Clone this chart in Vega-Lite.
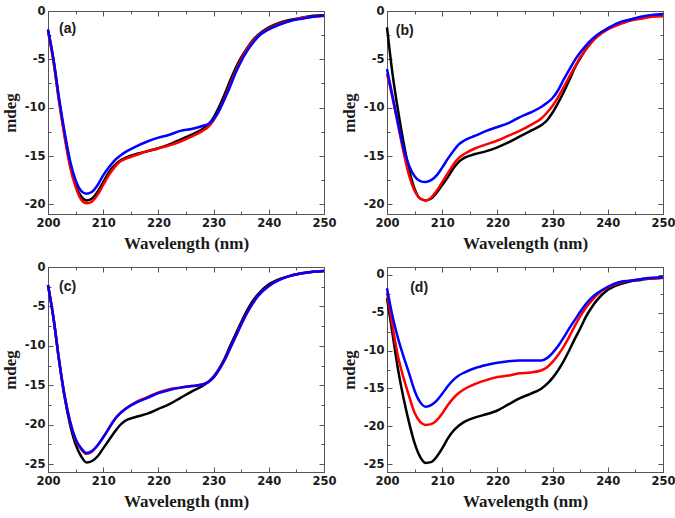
{
"$schema": "https://vega.github.io/schema/vega-lite/v6.json",
"background": "white",
"padding": {"left": 0, "top": 4, "right": 0, "bottom": 2},
"config": {
  "view": {"stroke": "#555", "strokeWidth": 1},
  "axis": {"labelFont": "DejaVu Sans", "labelFontWeight": "bold", "labelFontSize": 11.5, "labelColor": "#1a1a1a", "titleFont": "Liberation Serif", "titleFontWeight": "bold", "titleFontSize": 17, "titleColor": "#1a1a1a", "domainColor": "#555", "tickColor": "#555", "grid": false, "labelPadding": 8, "titlePadding": 5, "labelFlush": false, "labelOverlap": false}
},
"datasets": {
"labels": [
{"p":"a","wl":202,"v":-1.85,"label":"(a)"},
{"p":"b","wl":201.6,"v":-2.05,"label":"(b)"},
{"p":"c","wl":202,"v":-2.5,"label":"(c)"},
{"p":"d","wl":204.2,"v":-1.7,"label":"(d)"}
],
"curves": [
{"p":"a","s":"black","wl":200,"v":-2.0},{"p":"a","s":"black","wl":201,"v":-5.1},{"p":"a","s":"black","wl":202,"v":-9.2},{"p":"a","s":"black","wl":203,"v":-12.8},{"p":"a","s":"black","wl":204,"v":-15.9},{"p":"a","s":"black","wl":205,"v":-18.0},{"p":"a","s":"black","wl":206,"v":-19.2},{"p":"a","s":"black","wl":207,"v":-19.6},{"p":"a","s":"black","wl":208,"v":-19.4},{"p":"a","s":"black","wl":209,"v":-18.7},{"p":"a","s":"black","wl":210,"v":-17.7},{"p":"a","s":"black","wl":211,"v":-16.7},{"p":"a","s":"black","wl":212,"v":-16.0},{"p":"a","s":"black","wl":213,"v":-15.5},{"p":"a","s":"black","wl":214,"v":-15.2},{"p":"a","s":"black","wl":216,"v":-14.8},{"p":"a","s":"black","wl":218,"v":-14.5},{"p":"a","s":"black","wl":220,"v":-14.2},{"p":"a","s":"black","wl":222,"v":-13.8},{"p":"a","s":"black","wl":224,"v":-13.3},{"p":"a","s":"black","wl":226,"v":-12.8},{"p":"a","s":"black","wl":228,"v":-12.2},{"p":"a","s":"black","wl":229,"v":-11.8},{"p":"a","s":"black","wl":230,"v":-11.0},{"p":"a","s":"black","wl":231,"v":-9.9},{"p":"a","s":"black","wl":232,"v":-8.6},{"p":"a","s":"black","wl":233,"v":-7.2},{"p":"a","s":"black","wl":234,"v":-5.9},{"p":"a","s":"black","wl":235,"v":-4.8},{"p":"a","s":"black","wl":236,"v":-3.9},{"p":"a","s":"black","wl":237,"v":-3.1},{"p":"a","s":"black","wl":238,"v":-2.5},{"p":"a","s":"black","wl":240,"v":-1.7},{"p":"a","s":"black","wl":242,"v":-1.2},{"p":"a","s":"black","wl":244,"v":-0.9},{"p":"a","s":"black","wl":246,"v":-0.7},{"p":"a","s":"black","wl":248,"v":-0.5},{"p":"a","s":"black","wl":250,"v":-0.45},
{"p":"a","s":"red","wl":200,"v":-2.1},{"p":"a","s":"red","wl":201,"v":-5.3},{"p":"a","s":"red","wl":202,"v":-9.4},{"p":"a","s":"red","wl":203,"v":-13.0},{"p":"a","s":"red","wl":204,"v":-16.1},{"p":"a","s":"red","wl":205,"v":-18.2},{"p":"a","s":"red","wl":206,"v":-19.5},{"p":"a","s":"red","wl":207,"v":-19.9},{"p":"a","s":"red","wl":208,"v":-19.7},{"p":"a","s":"red","wl":209,"v":-19.0},{"p":"a","s":"red","wl":210,"v":-18.0},{"p":"a","s":"red","wl":211,"v":-17.0},{"p":"a","s":"red","wl":212,"v":-16.2},{"p":"a","s":"red","wl":213,"v":-15.6},{"p":"a","s":"red","wl":214,"v":-15.3},{"p":"a","s":"red","wl":216,"v":-14.9},{"p":"a","s":"red","wl":218,"v":-14.5},{"p":"a","s":"red","wl":220,"v":-14.2},{"p":"a","s":"red","wl":222,"v":-13.9},{"p":"a","s":"red","wl":224,"v":-13.5},{"p":"a","s":"red","wl":226,"v":-13.0},{"p":"a","s":"red","wl":228,"v":-12.4},{"p":"a","s":"red","wl":229,"v":-12.0},{"p":"a","s":"red","wl":230,"v":-11.3},{"p":"a","s":"red","wl":231,"v":-10.3},{"p":"a","s":"red","wl":232,"v":-9.0},{"p":"a","s":"red","wl":233,"v":-7.6},{"p":"a","s":"red","wl":234,"v":-6.2},{"p":"a","s":"red","wl":235,"v":-5.0},{"p":"a","s":"red","wl":236,"v":-4.0},{"p":"a","s":"red","wl":237,"v":-3.2},{"p":"a","s":"red","wl":238,"v":-2.6},{"p":"a","s":"red","wl":240,"v":-1.8},{"p":"a","s":"red","wl":242,"v":-1.3},{"p":"a","s":"red","wl":244,"v":-1.0},{"p":"a","s":"red","wl":246,"v":-0.7},{"p":"a","s":"red","wl":248,"v":-0.6},{"p":"a","s":"red","wl":250,"v":-0.5},
{"p":"a","s":"blue","wl":200,"v":-1.9},{"p":"a","s":"blue","wl":201,"v":-5.0},{"p":"a","s":"blue","wl":202,"v":-9.0},{"p":"a","s":"blue","wl":203,"v":-12.5},{"p":"a","s":"blue","wl":204,"v":-15.5},{"p":"a","s":"blue","wl":205,"v":-17.5},{"p":"a","s":"blue","wl":206,"v":-18.6},{"p":"a","s":"blue","wl":207,"v":-18.9},{"p":"a","s":"blue","wl":208,"v":-18.7},{"p":"a","s":"blue","wl":209,"v":-18.0},{"p":"a","s":"blue","wl":210,"v":-17.0},{"p":"a","s":"blue","wl":211,"v":-16.2},{"p":"a","s":"blue","wl":212,"v":-15.5},{"p":"a","s":"blue","wl":213,"v":-15.0},{"p":"a","s":"blue","wl":214,"v":-14.6},{"p":"a","s":"blue","wl":216,"v":-14.0},{"p":"a","s":"blue","wl":218,"v":-13.5},{"p":"a","s":"blue","wl":220,"v":-13.1},{"p":"a","s":"blue","wl":222,"v":-12.8},{"p":"a","s":"blue","wl":224,"v":-12.4},{"p":"a","s":"blue","wl":226,"v":-12.2},{"p":"a","s":"blue","wl":228,"v":-11.9},{"p":"a","s":"blue","wl":229,"v":-11.7},{"p":"a","s":"blue","wl":230,"v":-11.2},{"p":"a","s":"blue","wl":231,"v":-10.3},{"p":"a","s":"blue","wl":232,"v":-9.1},{"p":"a","s":"blue","wl":233,"v":-7.8},{"p":"a","s":"blue","wl":234,"v":-6.4},{"p":"a","s":"blue","wl":235,"v":-5.2},{"p":"a","s":"blue","wl":236,"v":-4.2},{"p":"a","s":"blue","wl":237,"v":-3.4},{"p":"a","s":"blue","wl":238,"v":-2.7},{"p":"a","s":"blue","wl":240,"v":-1.9},{"p":"a","s":"blue","wl":242,"v":-1.4},{"p":"a","s":"blue","wl":244,"v":-1.0},{"p":"a","s":"blue","wl":246,"v":-0.8},{"p":"a","s":"blue","wl":248,"v":-0.6},{"p":"a","s":"blue","wl":250,"v":-0.5},
{"p":"b","s":"black","wl":200,"v":-1.7},{"p":"b","s":"black","wl":201,"v":-6.5},{"p":"b","s":"black","wl":202,"v":-10.3},{"p":"b","s":"black","wl":203,"v":-13.6},{"p":"b","s":"black","wl":204,"v":-16.4},{"p":"b","s":"black","wl":205,"v":-18.4},{"p":"b","s":"black","wl":206,"v":-19.4},{"p":"b","s":"black","wl":207,"v":-19.6},{"p":"b","s":"black","wl":208,"v":-19.4},{"p":"b","s":"black","wl":209,"v":-18.8},{"p":"b","s":"black","wl":210,"v":-18.0},{"p":"b","s":"black","wl":211,"v":-17.2},{"p":"b","s":"black","wl":212,"v":-16.3},{"p":"b","s":"black","wl":213,"v":-15.6},{"p":"b","s":"black","wl":214,"v":-15.2},{"p":"b","s":"black","wl":216,"v":-14.8},{"p":"b","s":"black","wl":218,"v":-14.5},{"p":"b","s":"black","wl":220,"v":-14.1},{"p":"b","s":"black","wl":222,"v":-13.6},{"p":"b","s":"black","wl":224,"v":-13.0},{"p":"b","s":"black","wl":226,"v":-12.4},{"p":"b","s":"black","wl":228,"v":-11.8},{"p":"b","s":"black","wl":229,"v":-11.3},{"p":"b","s":"black","wl":230,"v":-10.5},{"p":"b","s":"black","wl":231,"v":-9.5},{"p":"b","s":"black","wl":232,"v":-8.4},{"p":"b","s":"black","wl":233,"v":-7.2},{"p":"b","s":"black","wl":234,"v":-5.9},{"p":"b","s":"black","wl":235,"v":-4.9},{"p":"b","s":"black","wl":236,"v":-4.0},{"p":"b","s":"black","wl":237,"v":-3.2},{"p":"b","s":"black","wl":238,"v":-2.6},{"p":"b","s":"black","wl":240,"v":-1.8},{"p":"b","s":"black","wl":242,"v":-1.3},{"p":"b","s":"black","wl":244,"v":-0.9},{"p":"b","s":"black","wl":246,"v":-0.7},{"p":"b","s":"black","wl":248,"v":-0.5},{"p":"b","s":"black","wl":250,"v":-0.45},
{"p":"b","s":"red","wl":200,"v":-6.5},{"p":"b","s":"red","wl":201,"v":-9.0},{"p":"b","s":"red","wl":202,"v":-11.8},{"p":"b","s":"red","wl":203,"v":-14.6},{"p":"b","s":"red","wl":204,"v":-17.0},{"p":"b","s":"red","wl":205,"v":-18.6},{"p":"b","s":"red","wl":206,"v":-19.4},{"p":"b","s":"red","wl":207,"v":-19.6},{"p":"b","s":"red","wl":208,"v":-19.3},{"p":"b","s":"red","wl":209,"v":-18.6},{"p":"b","s":"red","wl":210,"v":-17.7},{"p":"b","s":"red","wl":211,"v":-16.8},{"p":"b","s":"red","wl":212,"v":-15.9},{"p":"b","s":"red","wl":213,"v":-15.2},{"p":"b","s":"red","wl":214,"v":-14.8},{"p":"b","s":"red","wl":216,"v":-14.2},{"p":"b","s":"red","wl":218,"v":-13.8},{"p":"b","s":"red","wl":220,"v":-13.4},{"p":"b","s":"red","wl":222,"v":-12.9},{"p":"b","s":"red","wl":224,"v":-12.4},{"p":"b","s":"red","wl":226,"v":-11.8},{"p":"b","s":"red","wl":228,"v":-11.1},{"p":"b","s":"red","wl":229,"v":-10.5},{"p":"b","s":"red","wl":230,"v":-9.8},{"p":"b","s":"red","wl":231,"v":-8.9},{"p":"b","s":"red","wl":232,"v":-7.9},{"p":"b","s":"red","wl":233,"v":-6.8},{"p":"b","s":"red","wl":234,"v":-5.8},{"p":"b","s":"red","wl":235,"v":-4.8},{"p":"b","s":"red","wl":236,"v":-4.0},{"p":"b","s":"red","wl":237,"v":-3.3},{"p":"b","s":"red","wl":238,"v":-2.7},{"p":"b","s":"red","wl":240,"v":-1.9},{"p":"b","s":"red","wl":242,"v":-1.4},{"p":"b","s":"red","wl":244,"v":-1.0},{"p":"b","s":"red","wl":246,"v":-0.8},{"p":"b","s":"red","wl":248,"v":-0.6},{"p":"b","s":"red","wl":250,"v":-0.55},
{"p":"b","s":"blue","wl":200,"v":-6.0},{"p":"b","s":"blue","wl":201,"v":-8.8},{"p":"b","s":"blue","wl":202,"v":-11.6},{"p":"b","s":"blue","wl":203,"v":-14.2},{"p":"b","s":"blue","wl":204,"v":-16.0},{"p":"b","s":"blue","wl":205,"v":-17.1},{"p":"b","s":"blue","wl":206,"v":-17.6},{"p":"b","s":"blue","wl":207,"v":-17.7},{"p":"b","s":"blue","wl":208,"v":-17.5},{"p":"b","s":"blue","wl":209,"v":-17.0},{"p":"b","s":"blue","wl":210,"v":-16.2},{"p":"b","s":"blue","wl":211,"v":-15.3},{"p":"b","s":"blue","wl":212,"v":-14.5},{"p":"b","s":"blue","wl":213,"v":-13.8},{"p":"b","s":"blue","wl":214,"v":-13.4},{"p":"b","s":"blue","wl":216,"v":-12.9},{"p":"b","s":"blue","wl":218,"v":-12.4},{"p":"b","s":"blue","wl":220,"v":-12.0},{"p":"b","s":"blue","wl":222,"v":-11.6},{"p":"b","s":"blue","wl":224,"v":-11.0},{"p":"b","s":"blue","wl":226,"v":-10.5},{"p":"b","s":"blue","wl":228,"v":-9.9},{"p":"b","s":"blue","wl":229,"v":-9.5},{"p":"b","s":"blue","wl":230,"v":-9.0},{"p":"b","s":"blue","wl":231,"v":-8.2},{"p":"b","s":"blue","wl":232,"v":-7.1},{"p":"b","s":"blue","wl":233,"v":-6.1},{"p":"b","s":"blue","wl":234,"v":-5.1},{"p":"b","s":"blue","wl":235,"v":-4.3},{"p":"b","s":"blue","wl":236,"v":-3.6},{"p":"b","s":"blue","wl":237,"v":-3.0},{"p":"b","s":"blue","wl":238,"v":-2.5},{"p":"b","s":"blue","wl":240,"v":-1.8},{"p":"b","s":"blue","wl":242,"v":-1.2},{"p":"b","s":"blue","wl":244,"v":-0.9},{"p":"b","s":"blue","wl":246,"v":-0.6},{"p":"b","s":"blue","wl":248,"v":-0.4},{"p":"b","s":"blue","wl":250,"v":-0.3},
{"p":"c","s":"black","wl":200,"v":-2.3},{"p":"c","s":"black","wl":201,"v":-6.5},{"p":"c","s":"black","wl":202,"v":-11.8},{"p":"c","s":"black","wl":203,"v":-16.5},{"p":"c","s":"black","wl":204,"v":-20.0},{"p":"c","s":"black","wl":205,"v":-22.5},{"p":"c","s":"black","wl":206,"v":-24.0},{"p":"c","s":"black","wl":207,"v":-24.8},{"p":"c","s":"black","wl":208,"v":-24.6},{"p":"c","s":"black","wl":209,"v":-24.0},{"p":"c","s":"black","wl":210,"v":-23.0},{"p":"c","s":"black","wl":211,"v":-22.0},{"p":"c","s":"black","wl":212,"v":-21.0},{"p":"c","s":"black","wl":213,"v":-20.1},{"p":"c","s":"black","wl":214,"v":-19.5},{"p":"c","s":"black","wl":216,"v":-19.0},{"p":"c","s":"black","wl":218,"v":-18.6},{"p":"c","s":"black","wl":220,"v":-18.0},{"p":"c","s":"black","wl":222,"v":-17.4},{"p":"c","s":"black","wl":224,"v":-16.6},{"p":"c","s":"black","wl":226,"v":-15.8},{"p":"c","s":"black","wl":228,"v":-15.1},{"p":"c","s":"black","wl":229,"v":-14.6},{"p":"c","s":"black","wl":230,"v":-13.9},{"p":"c","s":"black","wl":231,"v":-12.9},{"p":"c","s":"black","wl":232,"v":-11.6},{"p":"c","s":"black","wl":233,"v":-10.0},{"p":"c","s":"black","wl":234,"v":-8.5},{"p":"c","s":"black","wl":235,"v":-7.0},{"p":"c","s":"black","wl":236,"v":-5.6},{"p":"c","s":"black","wl":237,"v":-4.4},{"p":"c","s":"black","wl":238,"v":-3.5},{"p":"c","s":"black","wl":240,"v":-2.2},{"p":"c","s":"black","wl":242,"v":-1.5},{"p":"c","s":"black","wl":244,"v":-1.1},{"p":"c","s":"black","wl":246,"v":-0.8},{"p":"c","s":"black","wl":248,"v":-0.6},{"p":"c","s":"black","wl":250,"v":-0.5},
{"p":"c","s":"red","wl":200,"v":-2.3},{"p":"c","s":"red","wl":201,"v":-6.5},{"p":"c","s":"red","wl":202,"v":-11.8},{"p":"c","s":"red","wl":203,"v":-16.3},{"p":"c","s":"red","wl":204,"v":-19.6},{"p":"c","s":"red","wl":205,"v":-21.9},{"p":"c","s":"red","wl":206,"v":-23.1},{"p":"c","s":"red","wl":207,"v":-23.7},{"p":"c","s":"red","wl":208,"v":-23.4},{"p":"c","s":"red","wl":209,"v":-22.6},{"p":"c","s":"red","wl":210,"v":-21.6},{"p":"c","s":"red","wl":211,"v":-20.5},{"p":"c","s":"red","wl":212,"v":-19.4},{"p":"c","s":"red","wl":213,"v":-18.6},{"p":"c","s":"red","wl":214,"v":-18.0},{"p":"c","s":"red","wl":216,"v":-17.1},{"p":"c","s":"red","wl":218,"v":-16.5},{"p":"c","s":"red","wl":220,"v":-15.9},{"p":"c","s":"red","wl":222,"v":-15.5},{"p":"c","s":"red","wl":224,"v":-15.3},{"p":"c","s":"red","wl":226,"v":-15.1},{"p":"c","s":"red","wl":228,"v":-14.9},{"p":"c","s":"red","wl":229,"v":-14.6},{"p":"c","s":"red","wl":230,"v":-14.0},{"p":"c","s":"red","wl":231,"v":-13.0},{"p":"c","s":"red","wl":232,"v":-11.8},{"p":"c","s":"red","wl":233,"v":-10.3},{"p":"c","s":"red","wl":234,"v":-8.8},{"p":"c","s":"red","wl":235,"v":-7.3},{"p":"c","s":"red","wl":236,"v":-5.9},{"p":"c","s":"red","wl":237,"v":-4.7},{"p":"c","s":"red","wl":238,"v":-3.7},{"p":"c","s":"red","wl":240,"v":-2.4},{"p":"c","s":"red","wl":242,"v":-1.6},{"p":"c","s":"red","wl":244,"v":-1.1},{"p":"c","s":"red","wl":246,"v":-0.8},{"p":"c","s":"red","wl":248,"v":-0.6},{"p":"c","s":"red","wl":250,"v":-0.5},
{"p":"c","s":"blue","wl":200,"v":-2.3},{"p":"c","s":"blue","wl":201,"v":-6.5},{"p":"c","s":"blue","wl":202,"v":-11.8},{"p":"c","s":"blue","wl":203,"v":-16.3},{"p":"c","s":"blue","wl":204,"v":-19.6},{"p":"c","s":"blue","wl":205,"v":-21.8},{"p":"c","s":"blue","wl":206,"v":-23.0},{"p":"c","s":"blue","wl":207,"v":-23.6},{"p":"c","s":"blue","wl":208,"v":-23.3},{"p":"c","s":"blue","wl":209,"v":-22.6},{"p":"c","s":"blue","wl":210,"v":-21.6},{"p":"c","s":"blue","wl":211,"v":-20.5},{"p":"c","s":"blue","wl":212,"v":-19.4},{"p":"c","s":"blue","wl":213,"v":-18.6},{"p":"c","s":"blue","wl":214,"v":-18.0},{"p":"c","s":"blue","wl":216,"v":-17.2},{"p":"c","s":"blue","wl":218,"v":-16.6},{"p":"c","s":"blue","wl":220,"v":-16.0},{"p":"c","s":"blue","wl":222,"v":-15.6},{"p":"c","s":"blue","wl":224,"v":-15.3},{"p":"c","s":"blue","wl":226,"v":-15.1},{"p":"c","s":"blue","wl":228,"v":-14.9},{"p":"c","s":"blue","wl":229,"v":-14.6},{"p":"c","s":"blue","wl":230,"v":-14.0},{"p":"c","s":"blue","wl":231,"v":-13.0},{"p":"c","s":"blue","wl":232,"v":-11.8},{"p":"c","s":"blue","wl":233,"v":-10.3},{"p":"c","s":"blue","wl":234,"v":-8.8},{"p":"c","s":"blue","wl":235,"v":-7.3},{"p":"c","s":"blue","wl":236,"v":-5.9},{"p":"c","s":"blue","wl":237,"v":-4.7},{"p":"c","s":"blue","wl":238,"v":-3.7},{"p":"c","s":"blue","wl":240,"v":-2.4},{"p":"c","s":"blue","wl":242,"v":-1.6},{"p":"c","s":"blue","wl":244,"v":-1.1},{"p":"c","s":"blue","wl":246,"v":-0.8},{"p":"c","s":"blue","wl":248,"v":-0.6},{"p":"c","s":"blue","wl":250,"v":-0.5},
{"p":"d","s":"black","wl":200,"v":-3.1},{"p":"d","s":"black","wl":201,"v":-7.8},{"p":"d","s":"black","wl":202,"v":-12.5},{"p":"d","s":"black","wl":203,"v":-16.3},{"p":"d","s":"black","wl":204,"v":-19.5},{"p":"d","s":"black","wl":205,"v":-22.2},{"p":"d","s":"black","wl":206,"v":-24.0},{"p":"d","s":"black","wl":207,"v":-24.8},{"p":"d","s":"black","wl":208,"v":-24.7},{"p":"d","s":"black","wl":209,"v":-24.0},{"p":"d","s":"black","wl":210,"v":-22.9},{"p":"d","s":"black","wl":211,"v":-21.6},{"p":"d","s":"black","wl":212,"v":-20.6},{"p":"d","s":"black","wl":213,"v":-19.9},{"p":"d","s":"black","wl":214,"v":-19.4},{"p":"d","s":"black","wl":216,"v":-18.8},{"p":"d","s":"black","wl":218,"v":-18.4},{"p":"d","s":"black","wl":220,"v":-17.9},{"p":"d","s":"black","wl":222,"v":-17.1},{"p":"d","s":"black","wl":224,"v":-16.3},{"p":"d","s":"black","wl":226,"v":-15.7},{"p":"d","s":"black","wl":228,"v":-15.0},{"p":"d","s":"black","wl":229,"v":-14.4},{"p":"d","s":"black","wl":230,"v":-13.6},{"p":"d","s":"black","wl":231,"v":-12.6},{"p":"d","s":"black","wl":232,"v":-11.4},{"p":"d","s":"black","wl":233,"v":-10.0},{"p":"d","s":"black","wl":234,"v":-8.5},{"p":"d","s":"black","wl":235,"v":-7.1},{"p":"d","s":"black","wl":236,"v":-5.6},{"p":"d","s":"black","wl":237,"v":-4.4},{"p":"d","s":"black","wl":238,"v":-3.4},{"p":"d","s":"black","wl":240,"v":-2.0},{"p":"d","s":"black","wl":242,"v":-1.3},{"p":"d","s":"black","wl":244,"v":-0.9},{"p":"d","s":"black","wl":246,"v":-0.7},{"p":"d","s":"black","wl":248,"v":-0.5},{"p":"d","s":"black","wl":250,"v":-0.4},
{"p":"d","s":"red","wl":200,"v":-2.4},{"p":"d","s":"red","wl":201,"v":-6.8},{"p":"d","s":"red","wl":202,"v":-10.8},{"p":"d","s":"red","wl":203,"v":-13.6},{"p":"d","s":"red","wl":204,"v":-16.0},{"p":"d","s":"red","wl":205,"v":-18.2},{"p":"d","s":"red","wl":206,"v":-19.4},{"p":"d","s":"red","wl":207,"v":-19.8},{"p":"d","s":"red","wl":208,"v":-19.7},{"p":"d","s":"red","wl":209,"v":-19.2},{"p":"d","s":"red","wl":210,"v":-18.3},{"p":"d","s":"red","wl":211,"v":-17.2},{"p":"d","s":"red","wl":212,"v":-16.3},{"p":"d","s":"red","wl":213,"v":-15.6},{"p":"d","s":"red","wl":214,"v":-15.1},{"p":"d","s":"red","wl":216,"v":-14.4},{"p":"d","s":"red","wl":218,"v":-13.9},{"p":"d","s":"red","wl":220,"v":-13.5},{"p":"d","s":"red","wl":222,"v":-13.3},{"p":"d","s":"red","wl":224,"v":-13.0},{"p":"d","s":"red","wl":226,"v":-12.9},{"p":"d","s":"red","wl":228,"v":-12.6},{"p":"d","s":"red","wl":229,"v":-12.2},{"p":"d","s":"red","wl":230,"v":-11.5},{"p":"d","s":"red","wl":231,"v":-10.6},{"p":"d","s":"red","wl":232,"v":-9.5},{"p":"d","s":"red","wl":233,"v":-8.2},{"p":"d","s":"red","wl":234,"v":-6.8},{"p":"d","s":"red","wl":235,"v":-5.5},{"p":"d","s":"red","wl":236,"v":-4.4},{"p":"d","s":"red","wl":237,"v":-3.5},{"p":"d","s":"red","wl":238,"v":-2.7},{"p":"d","s":"red","wl":240,"v":-1.7},{"p":"d","s":"red","wl":242,"v":-1.1},{"p":"d","s":"red","wl":244,"v":-0.8},{"p":"d","s":"red","wl":246,"v":-0.6},{"p":"d","s":"red","wl":248,"v":-0.5},{"p":"d","s":"red","wl":250,"v":-0.4},
{"p":"d","s":"blue","wl":200,"v":-1.8},{"p":"d","s":"blue","wl":201,"v":-5.5},{"p":"d","s":"blue","wl":202,"v":-8.4},{"p":"d","s":"blue","wl":203,"v":-10.8},{"p":"d","s":"blue","wl":204,"v":-13.0},{"p":"d","s":"blue","wl":205,"v":-15.3},{"p":"d","s":"blue","wl":206,"v":-16.8},{"p":"d","s":"blue","wl":207,"v":-17.4},{"p":"d","s":"blue","wl":208,"v":-17.2},{"p":"d","s":"blue","wl":209,"v":-16.6},{"p":"d","s":"blue","wl":210,"v":-15.7},{"p":"d","s":"blue","wl":211,"v":-14.7},{"p":"d","s":"blue","wl":212,"v":-13.9},{"p":"d","s":"blue","wl":213,"v":-13.3},{"p":"d","s":"blue","wl":214,"v":-12.9},{"p":"d","s":"blue","wl":216,"v":-12.3},{"p":"d","s":"blue","wl":218,"v":-11.9},{"p":"d","s":"blue","wl":220,"v":-11.6},{"p":"d","s":"blue","wl":222,"v":-11.4},{"p":"d","s":"blue","wl":224,"v":-11.3},{"p":"d","s":"blue","wl":226,"v":-11.3},{"p":"d","s":"blue","wl":228,"v":-11.3},{"p":"d","s":"blue","wl":229,"v":-11.0},{"p":"d","s":"blue","wl":230,"v":-10.3},{"p":"d","s":"blue","wl":231,"v":-9.4},{"p":"d","s":"blue","wl":232,"v":-8.3},{"p":"d","s":"blue","wl":233,"v":-7.1},{"p":"d","s":"blue","wl":234,"v":-6.0},{"p":"d","s":"blue","wl":235,"v":-4.9},{"p":"d","s":"blue","wl":236,"v":-3.9},{"p":"d","s":"blue","wl":237,"v":-3.1},{"p":"d","s":"blue","wl":238,"v":-2.5},{"p":"d","s":"blue","wl":240,"v":-1.6},{"p":"d","s":"blue","wl":242,"v":-1.0},{"p":"d","s":"blue","wl":244,"v":-0.8},{"p":"d","s":"blue","wl":246,"v":-0.6},{"p":"d","s":"blue","wl":248,"v":-0.4},{"p":"d","s":"blue","wl":250,"v":-0.35}
]
},
"columns": 2,
"spacing": {"row": 8, "column": 2},
"concat": [
{
 "width": 276, "height": 203,
 "layer": [
  {"data": {"name": "curves"}, "transform": [{"filter": "datum.p === 'a'"}],
   "mark": {"type": "line", "interpolate": "monotone", "strokeWidth": 2.5},
   "encoding": {
    "x": {"field": "wl", "type": "quantitative", "scale": {"domain": [200, 250], "nice": false}, "axis": {"orient": "bottom", "title": "Wavelength (nm)", "values": [200,205,210,215,220,225,230,235,240,245,250], "labelExpr": "datum.value % 10 === 0 ? datum.label : ''", "tickSize": {"condition": {"test": "datum.value % 10 === 0", "value": -5}, "value": -3}}},
    "y": {"field": "v", "type": "quantitative", "scale": {"domain": [-21, 0], "nice": false, "zero": false}, "axis": {"orient": "left", "title": "mdeg", "values": [0,-2.5,-5,-7.5,-10,-12.5,-15,-17.5,-20], "labelExpr": "datum.value % 5 === 0 ? (datum.value < 0 ? '-' : '') + abs(datum.value) : ''", "tickSize": {"condition": {"test": "datum.value % 5 === 0", "value": -5}, "value": -3}}},
    "color": {"field": "s", "type": "nominal", "scale": {"domain": ["black", "red", "blue"], "range": ["#000000", "#ff0000", "#0000ff"]}, "legend": null}
   }},
  {"data": {"name": "labels"}, "transform": [{"filter": "datum.p === 'a'"}],
   "mark": {"type": "text", "align": "left", "baseline": "middle", "font": "Liberation Sans", "fontWeight": "bold", "fontSize": 14, "color": "#1a1a1a"},
   "encoding": {
    "x": {"field": "wl", "type": "quantitative", "scale": {"domain": [200, 250], "nice": false}, "axis": {"orient": "top", "title": null, "labels": false, "values": [200,205,210,215,220,225,230,235,240,245,250], "tickSize": {"condition": {"test": "datum.value % 10 === 0", "value": -5}, "value": -3}}},
    "y": {"field": "v", "type": "quantitative", "scale": {"domain": [-21, 0], "nice": false, "zero": false}, "axis": {"orient": "right", "title": null, "labels": false, "values": [0,-2.5,-5,-7.5,-10,-12.5,-15,-17.5,-20], "tickSize": {"condition": {"test": "datum.value % 5 === 0", "value": -5}, "value": -3}}},
    "text": {"field": "label"}
   }}
 ],
 "resolve": {"axis": {"x": "independent", "y": "independent"}}
},
{
 "width": 276, "height": 203,
 "layer": [
  {"data": {"name": "curves"}, "transform": [{"filter": "datum.p === 'b'"}],
   "mark": {"type": "line", "interpolate": "monotone", "strokeWidth": 2.5},
   "encoding": {
    "x": {"field": "wl", "type": "quantitative", "scale": {"domain": [200, 250], "nice": false}, "axis": {"orient": "bottom", "title": "Wavelength (nm)", "values": [200,205,210,215,220,225,230,235,240,245,250], "labelExpr": "datum.value % 10 === 0 ? datum.label : ''", "tickSize": {"condition": {"test": "datum.value % 10 === 0", "value": -5}, "value": -3}}},
    "y": {"field": "v", "type": "quantitative", "scale": {"domain": [-21, 0], "nice": false, "zero": false}, "axis": {"orient": "left", "title": "mdeg", "values": [0,-2.5,-5,-7.5,-10,-12.5,-15,-17.5,-20], "labelExpr": "datum.value % 5 === 0 ? (datum.value < 0 ? '-' : '') + abs(datum.value) : ''", "tickSize": {"condition": {"test": "datum.value % 5 === 0", "value": -5}, "value": -3}}},
    "color": {"field": "s", "type": "nominal", "scale": {"domain": ["black", "red", "blue"], "range": ["#000000", "#ff0000", "#0000ff"]}, "legend": null}
   }},
  {"data": {"name": "labels"}, "transform": [{"filter": "datum.p === 'b'"}],
   "mark": {"type": "text", "align": "left", "baseline": "middle", "font": "Liberation Sans", "fontWeight": "bold", "fontSize": 14, "color": "#1a1a1a"},
   "encoding": {
    "x": {"field": "wl", "type": "quantitative", "scale": {"domain": [200, 250], "nice": false}, "axis": {"orient": "top", "title": null, "labels": false, "values": [200,205,210,215,220,225,230,235,240,245,250], "tickSize": {"condition": {"test": "datum.value % 10 === 0", "value": -5}, "value": -3}}},
    "y": {"field": "v", "type": "quantitative", "scale": {"domain": [-21, 0], "nice": false, "zero": false}, "axis": {"orient": "right", "title": null, "labels": false, "values": [0,-2.5,-5,-7.5,-10,-12.5,-15,-17.5,-20], "tickSize": {"condition": {"test": "datum.value % 5 === 0", "value": -5}, "value": -3}}},
    "text": {"field": "label"}
   }}
 ],
 "resolve": {"axis": {"x": "independent", "y": "independent"}}
},
{
 "width": 276, "height": 205,
 "layer": [
  {"data": {"name": "curves"}, "transform": [{"filter": "datum.p === 'c'"}],
   "mark": {"type": "line", "interpolate": "monotone", "strokeWidth": 2.5},
   "encoding": {
    "x": {"field": "wl", "type": "quantitative", "scale": {"domain": [200, 250], "nice": false}, "axis": {"orient": "bottom", "title": "Wavelength (nm)", "values": [200,205,210,215,220,225,230,235,240,245,250], "labelExpr": "datum.value % 10 === 0 ? datum.label : ''", "tickSize": {"condition": {"test": "datum.value % 10 === 0", "value": -5}, "value": -3}}},
    "y": {"field": "v", "type": "quantitative", "scale": {"domain": [-26, 0], "nice": false, "zero": false}, "axis": {"orient": "left", "title": "mdeg", "values": [0,-2.5,-5,-7.5,-10,-12.5,-15,-17.5,-20,-22.5,-25], "labelExpr": "datum.value % 5 === 0 ? (datum.value < 0 ? '-' : '') + abs(datum.value) : ''", "tickSize": {"condition": {"test": "datum.value % 5 === 0", "value": -5}, "value": -3}}},
    "color": {"field": "s", "type": "nominal", "scale": {"domain": ["black", "red", "blue"], "range": ["#000000", "#ff0000", "#0000ff"]}, "legend": null}
   }},
  {"data": {"name": "labels"}, "transform": [{"filter": "datum.p === 'c'"}],
   "mark": {"type": "text", "align": "left", "baseline": "middle", "font": "Liberation Sans", "fontWeight": "bold", "fontSize": 14, "color": "#1a1a1a"},
   "encoding": {
    "x": {"field": "wl", "type": "quantitative", "scale": {"domain": [200, 250], "nice": false}, "axis": {"orient": "top", "title": null, "labels": false, "values": [200,205,210,215,220,225,230,235,240,245,250], "tickSize": {"condition": {"test": "datum.value % 10 === 0", "value": -5}, "value": -3}}},
    "y": {"field": "v", "type": "quantitative", "scale": {"domain": [-26, 0], "nice": false, "zero": false}, "axis": {"orient": "right", "title": null, "labels": false, "values": [0,-2.5,-5,-7.5,-10,-12.5,-15,-17.5,-20,-22.5,-25], "tickSize": {"condition": {"test": "datum.value % 5 === 0", "value": -5}, "value": -3}}},
    "text": {"field": "label"}
   }}
 ],
 "resolve": {"axis": {"x": "independent", "y": "independent"}}
},
{
 "width": 276, "height": 205,
 "layer": [
  {"data": {"name": "curves"}, "transform": [{"filter": "datum.p === 'd'"}],
   "mark": {"type": "line", "interpolate": "monotone", "strokeWidth": 2.5},
   "encoding": {
    "x": {"field": "wl", "type": "quantitative", "scale": {"domain": [200, 250], "nice": false}, "axis": {"orient": "bottom", "title": "Wavelength (nm)", "values": [200,205,210,215,220,225,230,235,240,245,250], "labelExpr": "datum.value % 10 === 0 ? datum.label : ''", "tickSize": {"condition": {"test": "datum.value % 10 === 0", "value": -5}, "value": -3}}},
    "y": {"field": "v", "type": "quantitative", "scale": {"domain": [-26, 1], "nice": false, "zero": false}, "axis": {"orient": "left", "title": "mdeg", "values": [0,-2.5,-5,-7.5,-10,-12.5,-15,-17.5,-20,-22.5,-25], "labelExpr": "datum.value % 5 === 0 ? (datum.value < 0 ? '-' : '') + abs(datum.value) : ''", "tickSize": {"condition": {"test": "datum.value % 5 === 0", "value": -5}, "value": -3}}},
    "color": {"field": "s", "type": "nominal", "scale": {"domain": ["black", "red", "blue"], "range": ["#000000", "#ff0000", "#0000ff"]}, "legend": null}
   }},
  {"data": {"name": "labels"}, "transform": [{"filter": "datum.p === 'd'"}],
   "mark": {"type": "text", "align": "left", "baseline": "middle", "font": "Liberation Sans", "fontWeight": "bold", "fontSize": 14, "color": "#1a1a1a"},
   "encoding": {
    "x": {"field": "wl", "type": "quantitative", "scale": {"domain": [200, 250], "nice": false}, "axis": {"orient": "top", "title": null, "labels": false, "values": [200,205,210,215,220,225,230,235,240,245,250], "tickSize": {"condition": {"test": "datum.value % 10 === 0", "value": -5}, "value": -3}}},
    "y": {"field": "v", "type": "quantitative", "scale": {"domain": [-26, 1], "nice": false, "zero": false}, "axis": {"orient": "right", "title": null, "labels": false, "values": [0,-2.5,-5,-7.5,-10,-12.5,-15,-17.5,-20,-22.5,-25], "tickSize": {"condition": {"test": "datum.value % 5 === 0", "value": -5}, "value": -3}}},
    "text": {"field": "label"}
   }}
 ],
 "resolve": {"axis": {"x": "independent", "y": "independent"}}
}
]
}
